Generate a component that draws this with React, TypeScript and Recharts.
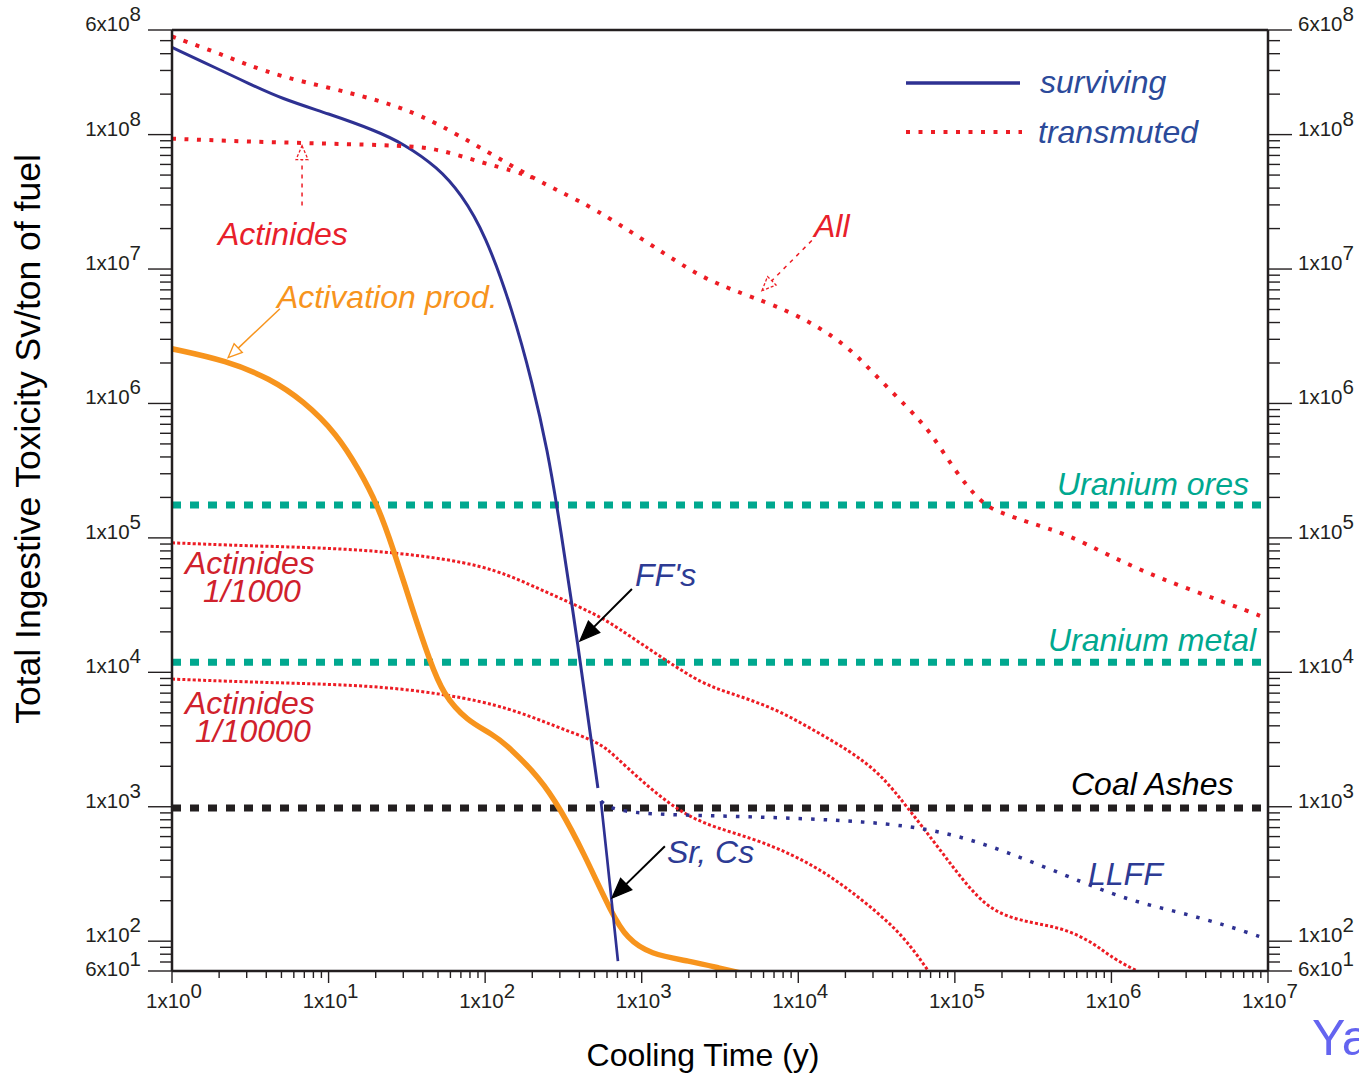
import React from "react";
import { LineChart, Line, XAxis, YAxis, ReferenceLine } from "recharts";

const W = 1359;
const H = 1076;
const FONT = '"Liberation Sans", Arial, Helvetica, sans-serif';

const RED = "#ED1C24";
const RED_LABEL = "#E8202B";
const RED_DARK = "#D0212C";
const BLUE = "#2E3192";
const BLUE_TEXT = "#2B4A9A";
const ORANGE = "#F7941D";
const TEAL = "#00A88F";
const AXIS = "#231F20";

// all transmuted (red dotted, top)
const allTime = [1, 2, 3, 5, 10, 20, 30, 50, 100, 200, 300, 500, 1000, 2000, 3000, 5000, 1e4, 2e4, 3e4, 5e4, 7e4, 1e5, 1.5e5, 2e5, 3e5, 5e5, 1e6, 2e6, 5e6, 1e7];
const allTox = [5.37e8, 4.01e8, 3.32e8, 2.7e8, 2.24e8, 1.82e8, 1.56e8, 1.21e8, 7.6e7, 4.79e7, 3.77e7, 2.81e7, 1.68e7, 9.9e6, 7.78e6, 6.22e6, 4.57e6, 2.78e6, 1.69e6, 9.3e5, 6.15e5, 3.15e5, 1.76e5, 1.53e5, 1.29e5, 1.09e5, 7.23e4, 5.04e4, 3.4e4, 2.5e4];

// actinides transmuted
const actTime = [1, 3, 10, 30, 50, 100, 150, 200];
const actTox = [9.33e7, 8.87e7, 8.57e7, 8.28e7, 7.87e7, 6.08e7, 5.4e7, 4.79e7];

// surviving FF's (blue solid)
const ffTime = [1, 2, 3, 5, 10, 20, 30, 50, 70, 100, 150, 200, 250, 300, 400, 479, 525];
const ffTox = [4.45e8, 3.05e8, 2.44e8, 1.85e8, 1.43e8, 1.07e8, 8.57e7, 5.69e7, 3.64e7, 1.83e7, 4.9e6, 1.43e6, 4.52e5, 1.29e5, 1.35e4, 2.93e3, 1.38e3];

// Sr, Cs tail
const srTime = [549, 600, 705];
const srTox = [1.1e3, 422, 71];

// LLFF (blue dotted)
const llTime = [549, 705, 4178, 2.95e4, 8.51e4, 2.12e5, 6.97e5, 1.35e6, 2.73e6, 5.46e6, 9.55e6, 1e7];
const llTox = [1.1e3, 881, 853, 782, 659, 468, 265, 199, 164, 131, 105, 103];

// activation products (orange)
const apTime = [1, 2.24, 4.23, 6.87, 11.3, 15.8, 20.4, 25.8, 34.6, 44.4, 53.8, 76.5, 112, 144, 224, 300, 421, 645, 805, 1128, 2033, 3155, 4365];
const apTox = [2.55e6, 2.08e6, 1.53e6, 1.05e6, 5.94e5, 3.15e5, 1.79e5, 8.43e4, 2.86e4, 1.21e4, 6.9e3, 4.35e3, 3.47e3, 2.74e3, 1.63e3, 978, 468, 159, 105, 80, 71, 63, 57.8];

// actinides 1/1000
const a3Time = [1, 3, 10, 30, 100, 200, 300, 500, 664, 1449, 2460, 3656, 6982, 1.19e4, 2.14e4, 3.37e4, 5.01e4, 7.91e4, 1.27e5, 1.85e5, 3.15e5, 4.97e5, 7.95e5, 1.02e6, 2e6];
const a3Tox = [9.19e4, 8.73e4, 8.43e4, 7.73e4, 6.29e4, 4.4e4, 3.57e4, 2.72e4, 2.25e4, 1.21e4, 8.18e3, 7.02e3, 5.43e3, 3.85e3, 2.6e3, 1.75e3, 978, 492, 235, 159, 136, 125, 95, 73.5, 50];

// actinides 1/10000
const a4Time = [1, 3, 10, 30, 100, 200, 300, 539, 664, 1002, 1561, 2460, 5058, 9100, 1.55e4, 2.62e4, 4.39e4, 6.15e4, 7.13e4];
const a4Tox = [8.91e3, 8.47e3, 8.18e3, 7.64e3, 6.12e3, 4.66e3, 3.85e3, 3.0e3, 2.42e3, 1.55e3, 1.01e3, 743, 585, 444, 315, 199, 119, 71, 54.8];

// reference levels
const uraniumOres = 1.76e5;
const uraniumMetal = 1.19e4;
const coalAshes = 980;

const zip = (t: number[], v: number[]) => t.map((x, i) => ({ t: x, v: v[i] }));

const xTicks: number[] = [];
for (let e = 0; e < 7; e++) for (let m = 1; m <= 9; m++) xTicks.push(m * 10 ** e);
xTicks.push(1e7);

const yTicks: number[] = [];
for (let e = 1; e <= 8; e++)
  for (let m = 1; m <= 9; m++) {
    const v = m * 10 ** e;
    if (v >= 60 && v <= 6e8) yTicks.push(v);
  }

function parts(v: number) {
  const e = Math.floor(Math.log10(v) + 1e-9);
  const m = Math.round(v / 10 ** e);
  return { m, e };
}
const isMajorY = (v: number) => parts(v).m === 1 || v === 60 || v === 6e8;

function LeftTick(props: any) {
  const { x, y, payload } = props;
  const v = payload.value;
  const major = isMajorY(v);
  const { m, e } = parts(v);
  return (
    <g>
      <line x1={x} x2={x - (major ? 24 : 12)} y1={y} y2={y} stroke={AXIS} strokeWidth={1.4} />
      {major && (
        <text x={x - 31} y={y + (v === 60 ? 5 : 1)} textAnchor="end" fontFamily={FONT} fontSize={20.5} fill={AXIS}>
          {`${m}x10`}
          <tspan dy={-10}>{e}</tspan>
        </text>
      )}
    </g>
  );
}

function RightTick(props: any) {
  const { x, y, payload } = props;
  const v = payload.value;
  const major = isMajorY(v);
  const { m, e } = parts(v);
  return (
    <g>
      <line x1={x} x2={x + (major ? 24 : 12)} y1={y} y2={y} stroke={AXIS} strokeWidth={1.4} />
      {major && (
        <text x={x + 30} y={y + (v === 60 ? 5 : 1)} textAnchor="start" fontFamily={FONT} fontSize={20.5} fill={AXIS}>
          {`${m}x10`}
          <tspan dy={-10}>{e}</tspan>
        </text>
      )}
    </g>
  );
}

function BottomTick(props: any) {
  const { x, y, payload } = props;
  const v = payload.value;
  const { m, e } = parts(v);
  const major = m === 1;
  return (
    <g>
      <line x1={x} x2={x} y1={y} y2={y + (major ? 12 : 7)} stroke={AXIS} strokeWidth={1.4} />
      {major && (
        <text x={x + 2} y={y + 37} textAnchor="middle" fontFamily={FONT} fontSize={20.5} fill={AXIS}>
          {"1x10"}
          <tspan dy={-10}>{e}</tspan>
        </text>
      )}
    </g>
  );
}

function arrow(color: string, dashed: boolean, open: boolean, head: number, half: number, sw: number) {
  return (p: any) => {
    const { x1, y1, x2, y2 } = p;
    if ([x1, y1, x2, y2].some((n) => typeof n !== "number" || isNaN(n))) return <g />;
    const a = Math.atan2(y2 - y1, x2 - x1);
    const bx = x2 - head * Math.cos(a);
    const by = y2 - head * Math.sin(a);
    const px = -Math.sin(a) * half;
    const py = Math.cos(a) * half;
    return (
      <g>
        <line x1={x1} y1={y1} x2={bx} y2={by} stroke={color} strokeWidth={sw} strokeDasharray={dashed ? "4 5" : undefined} />
        <polygon
          points={`${x2},${y2} ${bx + px},${by + py} ${bx - px},${by - py}`}
          fill={open ? "#fff" : color}
          stroke={color}
          strokeWidth={1.3}
          strokeDasharray={dashed ? "3 2" : undefined}
        />
      </g>
    );
  };
}

const lbl = (x: number, y: number, s: string, fill: string, size = 32, italic = true) => (
  <text x={x} y={y} fill={fill} fontSize={size} fontFamily={FONT} fontStyle={italic ? "italic" : "normal"}>
    {s}
  </text>
);

export default function App() {
  return (
    <div style={{ position: "absolute", left: 0, top: 0, width: W, height: H, background: "#fff" }}>
      <LineChart width={W} height={H} margin={{ top: 30, right: 11, bottom: 55, left: 82 }}>
        <XAxis
          dataKey="t"
          type="number"
          scale="log"
          domain={[1, 1e7]}
          allowDataOverflow
          ticks={xTicks}
          interval={0}
          height={50}
          tickSize={0}
          tickMargin={0}
          tickLine={false}
          tick={BottomTick}
          axisLine={{ stroke: AXIS, strokeWidth: 2.5 }}
        />
        <YAxis
          yAxisId="left"
          type="number"
          scale="log"
          domain={[60, 6e8]}
          allowDataOverflow
          ticks={yTicks}
          interval={0}
          width={90}
          tickSize={0}
          tickMargin={0}
          tickLine={false}
          tick={LeftTick}
          axisLine={{ stroke: AXIS, strokeWidth: 2.5 }}
        />
        <YAxis
          yAxisId="right"
          orientation="right"
          type="number"
          scale="log"
          domain={[60, 6e8]}
          allowDataOverflow
          ticks={yTicks}
          interval={0}
          width={80}
          tickSize={0}
          tickMargin={0}
          tickLine={false}
          tick={RightTick}
          axisLine={{ stroke: AXIS, strokeWidth: 2.5 }}
        />
        <ReferenceLine yAxisId="left" y={6e8} stroke={AXIS} strokeWidth={2.5} />

        <ReferenceLine yAxisId="left" y={uraniumOres} stroke={TEAL} strokeWidth={7} strokeDasharray="9 9" />
        <ReferenceLine yAxisId="left" y={uraniumMetal} stroke={TEAL} strokeWidth={7} strokeDasharray="9 9" />
        <ReferenceLine yAxisId="left" y={coalAshes} stroke={AXIS} strokeWidth={7} strokeDasharray="9 9" />

        <Line yAxisId="left" data={zip(a3Time, a3Tox)} dataKey="v" type="basis" stroke={RED} strokeWidth={3} strokeDasharray="3 2.2" dot={false} activeDot={false} isAnimationActive={false} />
        <Line yAxisId="left" data={zip(a4Time, a4Tox)} dataKey="v" type="basis" stroke={RED} strokeWidth={3} strokeDasharray="3 2.2" dot={false} activeDot={false} isAnimationActive={false} />
        <Line yAxisId="left" data={zip(llTime, llTox)} dataKey="v" type="basis" stroke={BLUE} strokeWidth={3.5} strokeDasharray="3.5 9" dot={false} activeDot={false} isAnimationActive={false} />
        <Line yAxisId="left" data={zip(apTime, apTox)} dataKey="v" type="basis" stroke={ORANGE} strokeWidth={5.5} dot={false} activeDot={false} isAnimationActive={false} />
        <Line yAxisId="left" data={zip(ffTime, ffTox)} dataKey="v" type="basis" stroke={BLUE} strokeWidth={3} dot={false} activeDot={false} isAnimationActive={false} />
        <Line yAxisId="left" data={zip(srTime, srTox)} dataKey="v" type="monotone" stroke={BLUE} strokeWidth={2.7} dot={false} activeDot={false} isAnimationActive={false} />
        <Line yAxisId="left" data={zip(actTime, actTox)} dataKey="v" type="basis" stroke={RED} strokeWidth={4} strokeDasharray="4 8.5" dot={false} activeDot={false} isAnimationActive={false} />
        <Line yAxisId="left" data={zip(allTime, allTox)} dataKey="v" type="basis" stroke={RED} strokeWidth={4} strokeDasharray="4 8.5" dot={false} activeDot={false} isAnimationActive={false} />

        {/* annotation arrows */}
        <ReferenceLine yAxisId="left" segment={[{ x: 6.77, y: 2.97e7 }, { x: 6.77, y: 8.28e7 }]} shape={arrow(RED, true, true, 14, 6, 1.5)} />
        <ReferenceLine yAxisId="left" segment={[{ x: 4.89, y: 5.07e6 }, { x: 2.28, y: 2.19e6 }]} shape={arrow(ORANGE, false, true, 14, 6, 1.5)} />
        <ReferenceLine yAxisId="left" segment={[{ x: 1.22e4, y: 1.63e7 }, { x: 5.86e3, y: 6.9e6 }]} shape={arrow(RED, true, true, 14, 6, 1.5)} />
        <ReferenceLine yAxisId="left" segment={[{ x: 866, y: 4.17e4 }, { x: 403, y: 1.71e4 }]} shape={arrow("#000", false, false, 20, 8, 2)} />
        <ReferenceLine yAxisId="left" segment={[{ x: 1406, y: 509 }, { x: 645, y: 209 }]} shape={arrow("#000", false, false, 20, 8, 2)} />
      </LineChart>

      <svg width={W} height={H} style={{ position: "absolute", left: 0, top: 0, pointerEvents: "none", overflow: "hidden" }}>
        <text x={40} y={439} transform="rotate(-90 40 439)" textAnchor="middle" fontFamily={FONT} fontSize={35.5} fill="#000">
          Total Ingestive Toxicity Sv/ton of fuel
        </text>
        <text x={703} y={1066} textAnchor="middle" fontFamily={FONT} fontSize={32} fill="#000">
          Cooling Time (y)
        </text>

        <line x1={906} x2={1020} y1={83} y2={83} stroke={BLUE} strokeWidth={3.5} />
        <line x1={906} x2={1022} y1={132} y2={132} stroke={RED} strokeWidth={4} strokeDasharray="4 8.5" />
        {lbl(1040, 93, "surviving", BLUE_TEXT)}
        {lbl(1038, 143, "transmuted", BLUE_TEXT)}

        {lbl(218, 245, "Actinides", RED_LABEL)}
        {lbl(277, 308, "Activation prod.", ORANGE)}
        {lbl(814, 237, "All", RED_LABEL)}
        {lbl(1057, 495, "Uranium ores", TEAL)}
        {lbl(1048, 651, "Uranium metal", TEAL)}
        {lbl(185, 574, "Actinides", RED_DARK)}
        {lbl(203, 602, "1/1000", RED_DARK)}
        {lbl(185, 714, "Actinides", RED_DARK)}
        {lbl(195, 742, "1/10000", RED_DARK)}
        {lbl(635, 586, "FF's", "#2D3B94")}
        {lbl(1071, 795, "Coal Ashes", "#000")}
        {lbl(667, 863, "Sr, Cs", "#2D3B94")}
        {lbl(1088, 885, "LLFF", "#2D3B94")}
        {lbl(1312, 1055, "Ya", "#6464F0", 50, false)}
      </svg>
    </div>
  );
}
